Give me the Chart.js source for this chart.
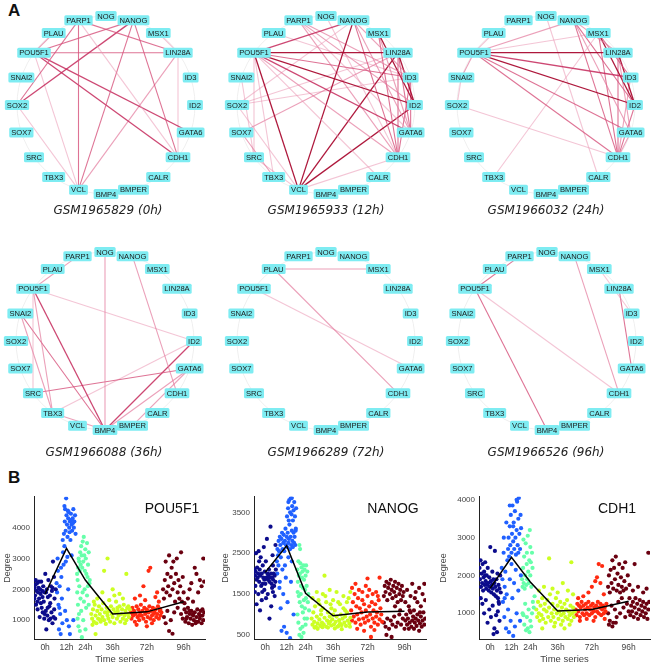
<!DOCTYPE html>
<html>
<head>
<meta charset="utf-8">
<script src="https://cdn.jsdelivr.net/npm/chart.js@4.4.1/dist/chart.umd.min.js"></script>
<style>
  body { margin: 0; background: #fff; width: 654px; height: 666px; position: relative; overflow: hidden; font-family: Arial, "Liberation Sans", sans-serif; }
  canvas { position: absolute; }
  .panel { position: absolute; font-weight: bold; font-size: 17px; color: #111; }
  .cap { position: absolute; width: 220px; text-align: center; font-family: "DejaVu Sans", sans-serif; font-style: italic; font-size: 12px; color: #222; }
</style>
</head>
<body>
<div class="panel" style="left:8px;top:1px">A</div>
<div class="panel" style="left:8px;top:468px">B</div>

<canvas id="net0" width="212" height="212" style="left:0px;top:-1px"></canvas>
<canvas id="net1" width="212" height="212" style="left:220px;top:-1px"></canvas>
<canvas id="net2" width="212" height="212" style="left:440px;top:-1px"></canvas>
<canvas id="net3" width="212" height="212" style="left:-1px;top:235px"></canvas>
<canvas id="net4" width="212" height="212" style="left:220px;top:235px"></canvas>
<canvas id="net5" width="212" height="212" style="left:441px;top:235px"></canvas>

<div class="cap" id="cap0" style="left:-2px;top:203px"></div>
<div class="cap" id="cap1" style="left:216px;top:203px"></div>
<div class="cap" id="cap2" style="left:436px;top:203px"></div>
<div class="cap" id="cap3" style="left:-6px;top:445px"></div>
<div class="cap" id="cap4" style="left:216px;top:445px"></div>
<div class="cap" id="cap5" style="left:436px;top:445px"></div>

<canvas id="deg0" width="215" height="178" style="left:0px;top:488px"></canvas>
<canvas id="deg1" width="218" height="178" style="left:218px;top:488px"></canvas>
<canvas id="deg2" width="218" height="178" style="left:436px;top:488px"></canvas>

<script>
// ---- panel A data ----
const genes = ['NOG','NANOG','MSX1','LIN28A','ID3','ID2','GATA6','CDH1','CALR','BMPER',
               'BMP4','VCL','TBX3','SRC','SOX7','SOX2','SNAI2','POU5F1','PLAU','PARP1'];
const samples = ['GSM1965829 (0h)','GSM1965933 (12h)','GSM1966032 (24h)',
                 'GSM1966088 (36h)','GSM1966289 (72h)','GSM1966526 (96h)'];

// [from, to, weight]
const edges0h = [
  ['PARP1','VCL',2],['PARP1','LIN28A',2],['PARP1','SOX2',2],['PARP1','CDH1',1],
  ['NANOG','SOX2',2.5],['NANOG','POU5F1',2],['NANOG','VCL',2],['NANOG','CDH1',2],
  ['POU5F1','LIN28A',2],['POU5F1','GATA6',2.5],['POU5F1','CDH1',2.5],['POU5F1','VCL',1],['PLAU','POU5F1',1.5],
  ['LIN28A','CDH1',1],['LIN28A','VCL',1.5],['SOX2','VCL',1],['MSX1','LIN28A',1]
];
const edges12h = [
  ['POU5F1','NANOG',2.5],['POU5F1','LIN28A',3],['POU5F1','ID3',2],['POU5F1','ID2',3],['POU5F1','GATA6',2.5],
  ['POU5F1','CDH1',1.5],['POU5F1','VCL',3],['POU5F1','CALR',1],['POU5F1','TBX3',1],['POU5F1','SRC',1],
  ['NANOG','VCL',3],['NANOG','CDH1',2],['NANOG','GATA6',1.5],['NANOG','ID3',1.5],['NANOG','SOX2',1],
  ['PARP1','ID3',1.5],['PARP1','ID2',1.5],['PARP1','CDH1',1.5],['PARP1','GATA6',1],
  ['MSX1','ID2',3],['MSX1','CDH1',2],['MSX1','GATA6',1.5],
  ['LIN28A','VCL',3],['LIN28A','SOX7',1.5],['LIN28A','ID2',3],['LIN28A','GATA6',2],['LIN28A','CDH1',2],['LIN28A','SOX2',1],
  ['ID2','VCL',3],['ID3','CDH1',2],['ID3','SOX2',1],['ID3','GATA6',2],['CDH1','VCL',1],['SOX7','TBX3',1.5],
  ['SRC','VCL',1],['SNAI2','SRC',1],['NOG','CDH1',1],['PLAU','ID3',1],['SOX2','VCL',1]
];
const edges24h = [
  ['POU5F1','NANOG',1.5],['POU5F1','MSX1',1],['POU5F1','LIN28A',3],['POU5F1','ID3',2.5],['POU5F1','ID2',3],
  ['POU5F1','GATA6',2],['POU5F1','CDH1',2],['POU5F1','SNAI2',1.5],['PLAU','POU5F1',1],
  ['SNAI2','SOX2',1],['SOX2','CDH1',1],['NOG','CALR',1],['TBX3','MSX1',1],
  ['NANOG','CDH1',2],['NANOG','ID2',2],['NANOG','GATA6',1.5],['NANOG','LIN28A',1.5],
  ['MSX1','ID2',3],['MSX1','CDH1',2],['MSX1','ID3',2],
  ['LIN28A','ID2',3],['LIN28A','CDH1',2],['LIN28A','GATA6',1.5],
  ['ID3','CDH1',1.5],['ID2','CDH1',2],['GATA6','CDH1',1.5]
];
const edges36h = [
  ['NOG','BMP4',1.5],['PARP1','POU5F1',1.5],['NANOG','CDH1',1.5],
  ['POU5F1','ID2',1],['POU5F1','BMP4',2.5],['POU5F1','TBX3',1.5],['POU5F1','SRC',1],
  ['SNAI2','BMP4',2],['SNAI2','TBX3',1.5],['SRC','GATA6',2],['TBX3','ID2',1],
  ['BMP4','ID2',2.5],['BMP4','GATA6',1.5],['BMPER','GATA6',1.5],['TBX3','BMP4',1.5]
];
const edges72h = [['PLAU','MSX1',1.5],['PLAU','CDH1',1.5],['POU5F1','GATA6',1]];
const edges96h = [
  ['PARP1','POU5F1',2],['POU5F1','BMP4',2],['POU5F1','CDH1',1],['NANOG','CDH1',1.5],
  ['MSX1','ID3',1],['LIN28A','GATA6',2]
];

// ---- panel B data ----
const timeLabels = ['0h','12h','24h','36h','72h','96h'];
const timeTickX = [6.5, 19, 30, 46, 66, 87.5];

const pou5f1Mean = [1850, 3330, 2300, 1200, 1270, 1600];
const nanogMean = [2030, 2680, 1520, 970, 1060, 1080];
const cdh1Mean = [1660, 2480, 1830, 1060, 1100, 1320];

const pou5f1Ticks = [1000, 2000, 3000, 4000];
const nanogTicks = [500, 1500, 2500, 3500];
const cdh1Ticks = [1000, 2000, 3000, 4000];

const pou5f1Points = [
  [[0.3,2050],[0.6,1800],[0.9,2150],[1.2,1500],[1.5,1950],[1.8,2200],[2.1,1350],[2.4,1900],[2.7,2050],[3.0,1700],[3.3,1100],[3.6,2000],[3.9,1850],[4.2,2250],[4.5,1400],[4.8,1950],[5.1,1250],[5.4,2100],[5.7,1600],[6.0,1050],[6.3,1900],[6.6,2500],[6.9,1300],[7.2,700],[7.5,2000],[7.8,1150],[8.1,1750],[8.4,2300],[8.7,1000],[9.0,1450],[9.3,1800],[9.6,1050],[9.9,2100],[10.2,1250],[10.5,1950],[10.8,900],[11.1,2900],[11.4,1100],[11.7,2400],[12.0,1700],[12.4,1050],[12.7,2000],[0.2,1700],[1.0,2300],[1.9,1600],[2.9,2250],[4.0,1550],[5.0,1750],[6.2,1200],[7.0,1900],[8.0,1400],[9.5,1550],[10.8,2050],[11.8,1350]],
  [[17.5,3800],[18,4200],[18.2,4600],[18.5,3900],[19,4400],[19.3,4100],[19.6,3700],[20,4300],[20.3,4500],[20.6,4000],[21,4200],[21.3,3600],[21.6,4450],[22,4100],[22.3,3900],[22.6,4300],[23,4600],[23.3,4000],[23.6,4200],[24,4400],[24.3,3800],[17.8,4700],[18.8,4950],[20.8,3850],[22.8,4150],[19.8,4550],[21.8,4250],[13.2,2200],[13.5,1900],[14,2600],[14.3,1500],[14.6,700],[15,2100],[15.3,1200],[15.6,550],[16,2400],[16.3,1700],[16.6,900],[17,3200],[17.3,2800],[17.8,3400],[18.2,1300],[18.6,2900],[19.2,1000],[19.5,3050],[20,2000],[20.4,800],[21,550],[22,3100],[16.8,3600],[14.8,1400],[15.8,2700],[23,1000],[13.8,3000]],
  [[25.2,2500],[25.5,2300],[25.8,2700],[26.1,3000],[26.4,2900],[26.7,2600],[27,3200],[27.3,2800],[27.6,3400],[27.9,3100],[28.2,2700],[28.5,3550],[28.8,2900],[29.1,3700],[29.4,3100],[29.7,2600],[30,3300],[30.3,3000],[30.6,2500],[31,3500],[31.3,2400],[31.6,2800],[32,3200],[32.4,2200],[25.3,1900],[25.7,1500],[26,800],[26.3,1200],[26.8,650],[27.2,1700],[27.6,1300],[28,450],[28.4,1900],[28.8,1000],[29.2,1600],[29.6,2000],[30.1,700],[30.5,1400],[31,1800],[31.5,2100],[32,1500],[32.6,2300],[25.5,1050],[26.5,2100]],
  [[33.5,1200],[34,1050],[34.5,1350],[35,950],[35.5,1500],[36,1150],[36.5,900],[37,1300],[37.5,1050],[38,1450],[38.5,1200],[39,950],[39.5,1350],[40,1100],[40.5,1550],[41,1000],[41.5,1250],[42,880],[42.5,1400],[43,1150],[43.5,1050],[44,1300],[44.5,950],[45,1450],[45.5,1200],[46,1100],[46.5,1350],[47,900],[47.5,1250],[48,1600],[48.5,1050],[49,1300],[49.5,1150],[50,1450],[50.5,950],[51,1200],[51.5,1350],[52,1050],[52.5,1500],[53,1150],[53.5,1300],[54,1000],[54.5,1400],[55,1200],[55.5,1100],[56,1350],[37,1700],[40,1900],[43,3000],[41,2600],[47,1800],[50,1850],[52,1700],[54,2500],[36,550],[44,1650],[46,2000],[35,1600],[34.2,850],[38.8,1000],[42.8,1250],[48.8,1400],[53.2,900],[55.2,1450]],
  [[56.5,1250],[57,1050],[57.5,1400],[58,1150],[58.5,1300],[59,950],[59.5,1200],[60,1450],[60.5,1100],[61,1350],[61.5,1000],[62,1250],[62.5,1500],[63,1150],[63.5,1300],[64,1050],[64.5,1400],[65,1200],[65.5,950],[66,1350],[66.5,1100],[67,1250],[67.5,1450],[68,1050],[68.5,1300],[69,1150],[69.5,1400],[70,1000],[70.5,1250],[71,1350],[71.5,1100],[72,1200],[72.5,1450],[73,1050],[73.5,1300],[74,1150],[74.5,1250],[59,1700],[62,1800],[64,2100],[67,2600],[68,2700],[71,1750],[73,1600],[60,850],[66,800],[69,900],[72,1900],[65,1650],[57.8,1200],[61.8,1150],[65.8,1250],[69.8,1200],[73.8,1350]],
  [[75.5,2000],[76,1700],[76.5,2300],[77,2900],[77.5,1900],[78,2500],[78.5,2100],[79,3100],[79.5,1800],[80,2400],[80.5,2700],[81,2000],[81.5,2900],[82,2200],[82.5,1600],[83,2500],[83.5,3000],[84,1900],[84.5,2300],[85,1700],[85.5,2100],[86,3200],[86.5,1600],[87,2400],[87.5,1900],[86,1200],[87,1050],[88,1350],[88.5,950],[89,1250],[89.5,1100],[90,1400],[90.5,900],[91,1200],[91.5,1050],[92,1300],[92.5,850],[93,1150],[93.5,1000],[94,1250],[94.5,900],[95,1100],[95.5,1350],[96,950],[96.5,1200],[97,1050],[97.5,1300],[98,900],[98.5,1150],[99,1000],[99.5,1250],[76,1100],[77,900],[78,1300],[80,1000],[82,1250],[79,650],[81,560],[90,1700],[92,2200],[94,2700],[96,1900],[97,2300],[98,2100],[99,3000],[95,2500],[93,1600],[91,2000],[88,1550],[99.5,2250],[84,1400],[89,1050],[91,1300],[93,1200],[95,950],[97,1150],[98.5,1350]]
];

const nanogPoints = [
  [[0.3,2100],[0.6,1950],[0.9,2050],[1.2,2500],[1.5,1850],[1.8,2150],[2.1,1900],[2.4,2000],[2.7,2550],[3,1800],[3.3,2100],[3.6,1950],[3.9,2400],[4.2,1700],[4.5,2000],[4.8,1550],[5.1,2200],[5.4,1900],[5.7,2650],[6,1850],[6.3,2050],[6.6,1750],[6.9,2300],[7.2,1900],[7.5,2850],[7.8,2000],[8.1,1850],[8.4,1950],[8.7,2100],[9,1800],[9.3,1900],[9.6,3150],[9.9,2000],[10.2,1750],[10.5,1900],[10.8,2450],[11.1,1850],[11.4,2000],[11.7,1700],[12,1950],[12.4,1800],[12.7,2100],[0.5,1550],[1.5,1250],[2.5,1500],[3.5,1100],[4.5,1350],[6,1600],[7,1400],[8,1500],[9,900],[10,1200],[11,1550],[12,1450],[0.8,1700],[5,1750],[10.5,1650],[12.5,2700],[11,2200],[3,2300]],
  [[13.3,2300],[13.6,2600],[14,2450],[14.3,2800],[14.6,2550],[15,2900],[15.3,2700],[15.6,2400],[16,2850],[16.3,3000],[16.6,2600],[17,2750],[17.3,2950],[17.6,2550],[18,2800],[18.3,3100],[18.6,2700],[19,2900],[19.3,2650],[19.6,3000],[20,2750],[20.3,2850],[20.6,3200],[21,2600],[21.3,2900],[21.6,2700],[22,3050],[22.3,2800],[22.6,2650],[23,3000],[23.3,2750],[23.6,2900],[24,2700],[24.3,3100],[19.2,3400],[19.8,3600],[20.2,3300],[20.5,3800],[21,3500],[21.4,3850],[21.8,3450],[22.2,3650],[22.6,3300],[23,3550],[23.4,3750],[23.8,3400],[24.2,3050],[20,3750],[22,3850],[24.5,3600],[13.5,2000],[14.2,2200],[15,1800],[15.5,1150],[16,600],[16.5,2100],[17,1500],[17.5,700],[18.5,1900],[19,550],[19.5,1300],[20,2400],[21,420],[21.5,1800],[22,2300],[23,1000],[14.8,1650],[18,2200]],
  [[25.2,2100],[25.5,1800],[25.8,2300],[26.1,1950],[26.4,2700],[26.7,2000],[27,2250],[27.3,1700],[27.6,2150],[27.9,1900],[28.2,2050],[28.5,1650],[28.8,2200],[29.1,1850],[29.4,2100],[29.7,1600],[30,1950],[30.3,2200],[30.6,1700],[31,2050],[25.4,1550],[26,1450],[26.6,1300],[27.2,1500],[27.8,1200],[28.4,1050],[29,1350],[29.6,1150],[30.2,1400],[30.8,900],[25.8,800],[26.4,500],[27,650],[27.6,450],[28.2,700],[28.8,550],[29.4,900],[30,750],[31.3,1300],[32,1100],[25.3,1000],[26.8,2600],[31.6,1500]],
  [[33.5,900],[34,750],[34.5,1050],[35,820],[35.5,1200],[36,700],[36.5,950],[37,780],[37.5,1350],[38,880],[38.5,720],[39,1000],[39.5,800],[40,1150],[40.5,760],[41,920],[41.5,1450],[42,700],[42.5,850],[43,1050],[43.5,780],[44,950],[44.5,1250],[45,730],[45.5,880],[46,1000],[46.5,760],[47,1100],[47.5,820],[48,950],[48.5,700],[49,1300],[49.5,860],[50,780],[50.5,1000],[51,740],[51.5,900],[52,1150],[52.5,800],[53,950],[53.5,720],[54,1050],[54.5,850],[55,1400],[55.5,780],[56,920],[34,1400],[36.5,1550],[38,1250],[40,1500],[42,1300],[44,1600],[46,1350],[48,1550],[50,1250],[52,1450],[54,1300],[56,1550],[41,1950],[37,650],[43,680],[47,660],[51,640],[39,1100],[45,1150],[53,1100],[35.2,680],[39.8,690],[44.2,820],[49.2,720],[55.8,700]],
  [[56.5,1100],[57,850],[57.5,1300],[58,950],[58.5,1500],[59,800],[59.5,1200],[60,1000],[60.5,1400],[61,880],[61.5,1150],[62,750],[62.5,1050],[63,1350],[63.5,900],[64,1250],[64.5,800],[65,1100],[65.5,950],[66,1450],[66.5,850],[67,1200],[67.5,1000],[68,700],[68.5,1300],[69,900],[69.5,1100],[70,800],[70.5,1250],[71,950],[71.5,1050],[72,750],[72.5,1350],[73,880],[73.5,1150],[74,1000],[74.5,820],[57,1650],[59,1750],[61,1600],[63,1550],[65,1700],[67,1600],[69,1500],[71,1550],[73,1900],[72,1450],[60,650],[64,600],[68,450],[70,620],[66,1880]],
  [[75.5,1450],[76,1700],[76.5,1550],[77,1800],[77.5,1350],[78,1650],[78.5,1750],[79,1500],[79.5,1850],[80,1600],[80.5,1400],[81,1700],[81.5,1550],[82,1800],[82.5,1450],[83,1650],[83.5,1300],[84,1750],[84.5,1500],[85,1600],[85.5,1350],[86,1700],[86.5,1450],[87,1550],[75.5,800],[76.5,700],[77.5,900],[78.5,650],[79.5,850],[80.5,750],[81.5,950],[82.5,700],[83.5,800],[84.5,1000],[85.5,750],[86.5,900],[87.5,650],[88,850],[88.5,1000],[89,750],[89.5,900],[90,650],[90.5,800],[91,1050],[91.5,700],[92,850],[92.5,950],[93,650],[93.5,800],[94,900],[94.5,720],[95,1000],[95.5,850],[96,600],[96.5,780],[97,950],[97.5,700],[98,850],[98.5,1050],[99,750],[99.5,900],[88,1300],[89,1600],[90,1200],[91,1450],[92,1750],[93,1100],[94,1550],[95,1300],[96,1650],[97,1200],[98,1500],[99,1750],[99.5,1350],[90.5,1100],[93.5,1400],[96.5,1050],[77,500],[80,450],[85,1100],[82,1200]]
];

const cdh1Points = [
  [[0.3,2200],[0.6,1900],[0.9,2400],[1.2,1700],[1.5,2050],[1.8,1800],[2.1,2300],[2.4,1600],[2.7,1950],[3,2100],[3.3,1750],[3.6,2350],[3.9,1850],[4.2,1650],[4.5,2000],[4.8,1750],[5.1,2200],[5.4,1800],[5.7,1600],[6,1950],[6.3,1700],[6.6,2750],[6.9,1850],[7.2,1550],[7.5,1750],[7.8,2100],[8.1,1650],[8.4,1900],[8.7,1500],[9,1800],[9.3,2650],[9.6,1700],[9.9,1450],[10.2,1900],[10.5,1600],[10.8,2050],[11.1,1400],[11.4,1750],[11.7,1250],[12,1650],[12.4,2000],[12.7,1550],[1,1400],[2,1250],[3,1000],[4,1350],[5,750],[6,1100],[7,900],[8,1200],[9,600],[10,950],[11,1050],[12,800],[8.5,450],[10.5,500],[11.5,1300],[3.5,2000]],
  [[17,2700],[17.3,3000],[17.6,2500],[18,3300],[18.3,2800],[18.6,3600],[19,2600],[19.3,3100],[19.6,3850],[20,2900],[20.3,3400],[20.6,2700],[21,3700],[21.3,3000],[21.6,2550],[22,3200],[22.3,3950],[22.6,2800],[23,3500],[23.3,4050],[23.6,3100],[24,2700],[24.3,3600],[24.6,3250],[22,4000],[18,3850],[20,3300],[23,2600],[13.3,2200],[13.7,1900],[14,1300],[14.4,2600],[14.8,900],[15,1700],[15.4,2100],[15.8,600],[16.2,1500],[16.6,2400],[17,1100],[17.5,500],[18,1900],[18.5,800],[19,2300],[19.5,1400],[20,400],[20.5,1800],[21,650],[21.5,2150],[22,1000],[23,1600],[24,800],[24.5,2000],[14.5,3000],[16,3400],[15,1400]],
  [[25.2,1900],[25.5,1700],[25.8,2200],[26.1,1800],[26.4,2500],[26.7,1650],[27,2000],[27.3,2850],[27.6,1750],[27.9,2300],[28.2,1900],[28.5,3050],[28.8,2100],[29.1,1800],[29.4,2400],[29.7,3200],[30,2000],[30.3,2350],[30.6,1700],[31,2600],[31.3,2200],[26,2950],[28,2600],[30,2750],[25.5,1000],[26,950],[26.5,700],[27,1250],[27.5,550],[28,900],[28.5,600],[29,1100],[29.5,500],[30,800],[30.5,650],[31,1000],[31.5,1300],[32,1150],[32.5,1450]],
  [[33.5,1100],[34,900],[34.5,1300],[35,1000],[35.5,800],[36,1200],[36.5,950],[37,1400],[37.5,850],[38,1100],[38.5,1250],[39,750],[39.5,1050],[40,1350],[40.5,900],[41,1150],[41.5,1500],[42,800],[42.5,1000],[43,1250],[43.5,900],[44,1100],[44.5,750],[45,1400],[45.5,1000],[46,1200],[46.5,850],[47,1050],[47.5,1300],[48,950],[48.5,1150],[49,800],[49.5,1000],[50,1250],[50.5,900],[51,1100],[51.5,1350],[52,850],[52.5,1050],[53,950],[53.5,1200],[54,800],[54.5,1000],[55,1150],[55.5,900],[56,1050],[35,1600],[38,1700],[41,2450],[43,1650],[46,1550],[49,1800],[52,1600],[54,2350],[55,1500],[37,600],[44,650],[48,700],[50,600],[53,700]],
  [[56.5,1100],[57,950],[57.5,1250],[58,1050],[58.5,1200],[59,900],[59.5,1150],[60,1300],[60.5,1000],[61,1200],[61.5,950],[62,1100],[62.5,1250],[63,1000],[63.5,1150],[64,1300],[64.5,950],[65,1100],[65.5,1200],[66,1000],[66.5,1250],[67,1050],[67.5,1150],[68,900],[68.5,1200],[69,1050],[69.5,1300],[70,1000],[70.5,1150],[71,1250],[71.5,950],[72,1100],[72.5,1200],[73,1000],[73.5,1150],[74,1050],[74.5,1250],[58,1400],[61,1450],[64,1550],[66,1700],[68,1850],[69,1950],[70,2300],[71,1800],[72,2250],[73,1500],[59,800],[63,850],[67,800],[73.5,850]],
  [[75.5,1700],[76,2000],[76.5,1550],[77,2150],[77.5,1800],[78,2400],[78.5,1650],[79,2200],[79.5,1900],[80,2500],[80.5,1600],[81,2050],[81.5,1750],[82,2300],[82.5,1550],[83,1950],[83.5,1700],[84,2200],[84.5,1600],[85,1850],[85.5,2350],[86,1650],[87,2000],[88,1750],[75.5,1000],[76.5,800],[77.5,1200],[78.5,750],[79.5,1100],[80.5,900],[81.5,1300],[82.5,1000],[83.5,1400],[84.5,1150],[85.5,900],[86.5,1250],[87.5,1050],[88,1400],[88.5,950],[89,1200],[89.5,1050],[90,1300],[90.5,900],[91,1150],[91.5,1400],[92,1000],[92.5,1250],[93,850],[93.5,1100],[94,1350],[94.5,950],[95,1200],[95.5,1050],[96,1300],[96.5,900],[97,1150],[97.5,1000],[98,1250],[98.5,850],[99,1100],[99.5,1300],[90,1600],[93,1700],[96,1550],[98,1650],[99,2600],[91,2300],[76,700],[78,650],[80,750]]
];

// ---- styles ----
const groupColors = ['#0c0c8c', '#2060ff', '#66ffaa', '#ccff22', '#ff2a10', '#6a0010'];
const R = 106 / 89;

function edgeColor(w) {
  if (w >= 3) return 'rgba(170,12,50,0.95)';
  if (w >= 2.5) return 'rgba(196,40,90,0.85)';
  if (w >= 2) return 'rgba(214,80,122,0.8)';
  if (w >= 1.5) return 'rgba(226,120,155,0.7)';
  return 'rgba(234,150,178,0.55)';
}

function drawNetwork(id, edges) {
  const pos = {};
  genes.forEach((g, i) => {
    const a = Math.PI / 2 - i * 2 * Math.PI / genes.length;
    pos[g] = { x: Math.cos(a), y: Math.sin(a) };
  });

  const datasets = edges.map(e => ({
    data: [pos[e[0]], pos[e[1]]],
    showLine: true,
    borderColor: edgeColor(e[2]),
    borderWidth: e[2] >= 2.5 ? 1.3 : 1.1,
    pointRadius: 0
  }));

  const nodePlugin = {
    id: 'nodes',
    beforeDatasetsDraw(chart) {
      const ctx = chart.ctx, sx = chart.scales.x, sy = chart.scales.y;
      ctx.save();
      ctx.strokeStyle = '#efefef';
      ctx.lineWidth = 1;
      ctx.beginPath();
      ctx.arc(sx.getPixelForValue(0), sy.getPixelForValue(0), sx.getPixelForValue(1) - sx.getPixelForValue(0), 0, Math.PI * 2);
      ctx.stroke();
      ctx.restore();
    },
    afterDatasetsDraw(chart) {
      const ctx = chart.ctx, sx = chart.scales.x, sy = chart.scales.y;
      ctx.save();
      ctx.font = '7.6px Arial';
      ctx.textAlign = 'center';
      ctx.textBaseline = 'middle';
      genes.forEach(g => {
        const px = sx.getPixelForValue(pos[g].x);
        const py = sy.getPixelForValue(pos[g].y);
        const w = ctx.measureText(g).width + 4;
        const h = 10;
        ctx.fillStyle = '#7eecf2';
        ctx.beginPath();
        if (ctx.roundRect) ctx.roundRect(px - w / 2, py - h / 2, w, h, 1.5);
        else ctx.rect(px - w / 2, py - h / 2, w, h);
        ctx.fill();
        ctx.fillStyle = '#1a1a1a';
        ctx.fillText(g, px, py + 0.5);
      });
      ctx.restore();
    }
  };

  new Chart(document.getElementById(id), {
    type: 'scatter',
    data: { datasets },
    options: {
      responsive: false,
      animation: false,
      events: [],
      layout: { padding: 0 },
      plugins: { legend: { display: false }, tooltip: { enabled: false } },
      scales: {
        x: { type: 'linear', display: false, min: -R, max: R },
        y: { type: 'linear', display: false, min: -R, max: R }
      }
    },
    plugins: [nodePlugin]
  });
}

function drawDegree(id, gene, groups, means, yTicks, yMin, yMax, yWidth, padRight) {
  const datasets = [{
    data: means.map((m, i) => ({ x: timeTickX[i], y: m })),
    showLine: true,
    borderColor: '#000',
    borderWidth: 1.5,
    pointRadius: 0,
    order: 0
  }];
  groups.forEach((g, i) => {
    datasets.push({
      data: g.map(p => ({ x: p[0], y: p[1] })),
      backgroundColor: groupColors[i],
      pointRadius: 2.1,
      pointBorderWidth: 0,
      order: 1
    });
  });

  const geneTitle = {
    id: 'geneTitle',
    afterDraw(chart) {
      const ctx = chart.ctx, a = chart.chartArea;
      ctx.save();
      ctx.font = '14px Arial';
      ctx.fillStyle = '#111';
      ctx.textAlign = 'center';
      ctx.textBaseline = 'middle';
      ctx.fillText(gene, a.right - 33, a.top + 12);
      ctx.restore();
    }
  };

  new Chart(document.getElementById(id), {
    type: 'scatter',
    data: { datasets },
    options: {
      responsive: false,
      animation: false,
      events: [],
      layout: { padding: { top: 7, right: padRight, left: 2, bottom: 0 } },
      plugins: { legend: { display: false }, tooltip: { enabled: false } },
      scales: {
        x: {
          type: 'linear', min: 0, max: 100,
          grid: { display: false, drawTicks: false },
          border: { display: true, color: '#222' },
          afterBuildTicks: s => { s.ticks = timeTickX.map(v => ({ value: v })); },
          ticks: {
            autoSkip: false, maxRotation: 0, padding: 4,
            color: '#444', font: { size: 8.5, family: 'Arial' },
            callback: (v, i) => timeLabels[i]
          },
          title: { display: true, text: 'Time series', color: '#444', font: { size: 9.5, family: 'Arial' }, padding: { top: 0, bottom: 1 } },
          afterFit: s => { s.height = 27; }
        },
        y: {
          type: 'linear', min: yMin, max: yMax,
          grid: { display: false, drawTicks: false },
          border: { display: true, color: '#222' },
          afterBuildTicks: s => { s.ticks = yTicks.map(v => ({ value: v })); },
          ticks: { padding: 4, color: '#444', font: { size: 8, family: 'Arial' }, callback: v => String(v) },
          title: { display: true, text: 'Degree', color: '#444', font: { size: 9, family: 'Arial' }, padding: { top: 0, bottom: 0 } },
          afterFit: s => { s.width = yWidth - 2; }
        }
      }
    },
    plugins: [geneTitle]
  });
}

const allEdges = [edges0h, edges12h, edges24h, edges36h, edges72h, edges96h];
allEdges.forEach((e, i) => {
  drawNetwork('net' + i, e);
  document.getElementById('cap' + i).textContent = samples[i];
});

drawDegree('deg0', 'POU5F1', pou5f1Points, pou5f1Mean, pou5f1Ticks, 390, 5000, 34, 10);
drawDegree('deg1', 'NANOG', nanogPoints, nanogMean, nanogTicks, 400, 3880, 36, 10);
drawDegree('deg2', 'CDH1', cdh1Points, cdh1Mean, cdh1Ticks, 320, 4080, 43, 3);
</script>
</body>
</html>
